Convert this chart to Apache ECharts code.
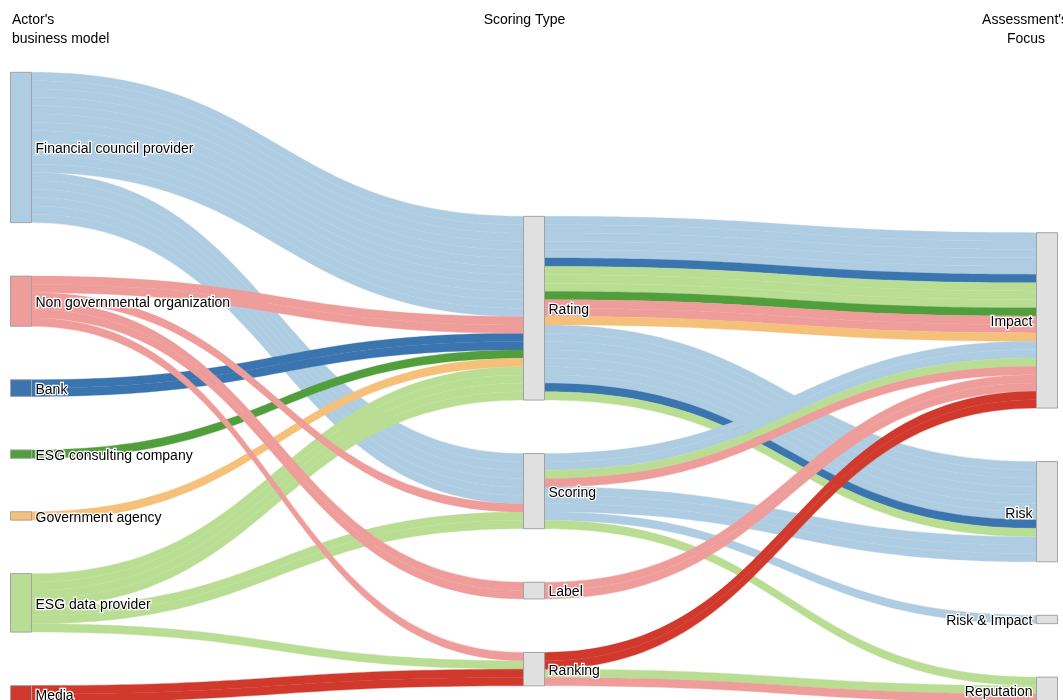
<!DOCTYPE html>
<html>
<head>
<meta charset="utf-8">
<script src="https://cdn.jsdelivr.net/npm/echarts@6/dist/echarts.min.js"></script>
<style>
html,body{margin:0;padding:0;background:#fff;}
#chart{width:1063px;height:700px;}
</style>
</head>
<body>
<div id="chart"></div>
<script>
// ---------- data ----------
const actors = ['Financial council provider', 'Non governmental organization', 'Bank',
  'ESG consulting company', 'Government agency', 'ESG data provider', 'Media'];
const actorColors = ['#aecde2', '#ef9d9b', '#3b75af', '#509e3c', '#f5c07a', '#b9de93', '#d1392c'];
const scoringTypes = ['Rating', 'Scoring', 'Label', 'Ranking'];
const focuses = ['Impact', 'Risk', 'Risk & Impact', 'Reputation'];
const columnTitles = [["Actor's", 'business model'], ['Scoring Type'], ["Assessment's", 'Focus']];

// Each path: actor -> scoring type -> assessment focus, with number of actors
const pathActor = [
  'Financial council provider', 'Financial council provider', 'Financial council provider',
  'Financial council provider', 'Financial council provider',
  'Bank', 'Bank',
  'ESG data provider', 'ESG data provider', 'ESG data provider', 'ESG data provider', 'ESG data provider',
  'ESG consulting company',
  'Non governmental organization', 'Non governmental organization', 'Non governmental organization',
  'Non governmental organization',
  'Government agency',
  'Media'];
const pathType = [
  'Rating', 'Rating', 'Scoring', 'Scoring', 'Scoring',
  'Rating', 'Rating',
  'Rating', 'Rating', 'Scoring', 'Scoring', 'Ranking',
  'Rating',
  'Rating', 'Scoring', 'Label', 'Ranking',
  'Rating',
  'Ranking'];
const pathFocus = [
  'Impact', 'Risk', 'Impact', 'Risk', 'Risk & Impact',
  'Impact', 'Risk',
  'Impact', 'Risk', 'Impact', 'Reputation', 'Reputation',
  'Impact',
  'Impact', 'Impact', 'Impact', 'Reputation',
  'Impact',
  'Impact'];
const pathCount = [
  5, 7, 2, 3, 1,
  1, 1,
  3, 1, 1, 1, 1,
  1,
  2, 1, 2, 1,
  1,
  2];

// ---------- layout / style settings ----------
const FONT = '"Liberation Sans", Arial, Helvetica, sans-serif';
const firstLevelLayer = ['Financial council provider', 'Bank', 'ESG consulting company',
  'Government agency', 'ESG data provider', 'Media', 'Non governmental organization'];
const middlePad = 10.84;   // empty space above the middle column (in flow units)
const rightPad = 12.8;     // empty space above the right column (in flow units)

const colorOf = name => actorColors[actors.indexOf(name)];
const nodeBorder = { borderColor: '#a3a3a3', borderWidth: 1 };

const nodes = [];
actors.forEach((a, i) => nodes.push({
  name: a, depth: 0,
  itemStyle: Object.assign({ color: actorColors[i] }, nodeBorder)
}));
nodes.push({ name: '__padMiddle', depth: 1, value: middlePad,
  itemStyle: { color: 'rgba(0,0,0,0)', borderWidth: 0 }, label: { show: false } });
scoringTypes.forEach(t => nodes.push({
  name: t, depth: 1,
  itemStyle: Object.assign({ color: '#e0e0e0' }, nodeBorder)
}));
nodes.push({ name: '__padRight', depth: 2, value: rightPad,
  itemStyle: { color: 'rgba(0,0,0,0)', borderWidth: 0 }, label: { show: false } });
focuses.forEach(f => nodes.push({
  name: f, depth: 2,
  itemStyle: Object.assign({ color: '#e0e0e0' }, nodeBorder),
  label: { position: 'left' }
}));

const linkStyle = c => ({ color: c, opacity: 1, borderColor: c, borderWidth: 0.35 });

const links = [];
// first level: actor -> scoring type, one band per actor
firstLevelLayer.forEach(a => {
  pathActor.forEach((pa, i) => {
    if (pa !== a) return;
    for (let k = 0; k < pathCount[i]; k++) {
      links.push({ source: a, target: pathType[i], value: 1, lineStyle: linkStyle(colorOf(a)) });
    }
  });
});
// second level: scoring type -> focus, coloured by the originating actor
scoringTypes.forEach(t => {
  pathType.forEach((pt, i) => {
    if (pt !== t) return;
    for (let k = 0; k < pathCount[i]; k++) {
      links.push({ source: t, target: pathFocus[i], value: 1,
        lineStyle: linkStyle(colorOf(pathActor[i])) });
    }
  });
});

const titleStyle = { fill: '#000', font: '14px ' + FONT };
const graphics = [
  { type: 'text', style: Object.assign({ text: columnTitles[0][0], x: 12, y: 20, align: 'left', verticalAlign: 'middle' }, titleStyle) },
  { type: 'text', style: Object.assign({ text: columnTitles[0][1], x: 12, y: 39, align: 'left', verticalAlign: 'middle' }, titleStyle) },
  { type: 'text', style: Object.assign({ text: columnTitles[1][0], x: 524.5, y: 20, align: 'center', verticalAlign: 'middle' }, titleStyle) },
  { type: 'text', style: Object.assign({ text: columnTitles[2][0], x: 1025, y: 20, align: 'center', verticalAlign: 'middle' }, titleStyle) },
  { type: 'text', style: Object.assign({ text: columnTitles[2][1], x: 1026, y: 39.5, align: 'center', verticalAlign: 'middle' }, titleStyle) }
];

const chart = echarts.init(document.getElementById('chart'), null, { renderer: 'canvas' });
chart.setOption({
  animation: false,
  backgroundColor: '#fff',
  graphic: graphics,
  series: [{
    type: 'sankey',
    left: 10.5, right: 5.5, top: 72.3, bottom: -2.3,
    nodeWidth: 21,
    nodeGap: 53.5,
    nodeAlign: 'left',
    layoutIterations: 0,
    draggable: false,
    emphasis: { disabled: true },
    label: {
      show: true, position: 'right', distance: 3.5, offset: [0, 2],
      color: '#000', fontSize: 14, fontFamily: FONT,
      textBorderColor: '#fff', textBorderWidth: 2.5
    },
    lineStyle: { curveness: 0.5, opacity: 1 },
    data: nodes,
    links: links
  }]
});
</script>
</body>
</html>
